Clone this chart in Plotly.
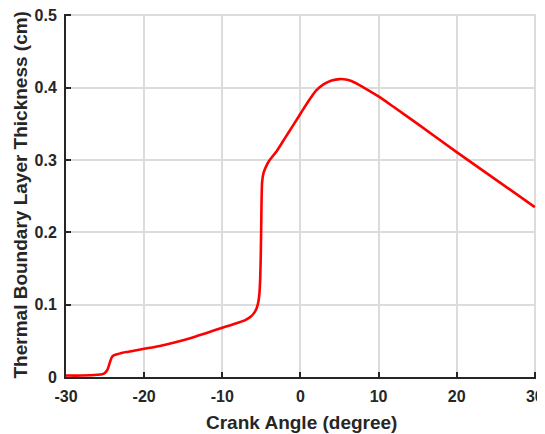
import plotly.graph_objects as go

crank_angle = [-30, -28, -26, -25.3, -25, -24.7, -24.5, -24.3, -24.1, -23.9, -23.6, -23, -22, -20, -18, -16, -14, -12, -10, -8,
               -7, -6.3, -5.9, -5.6, -5.4, -5.25, -5.15, -5.08, -5.02, -4.97, -4.9, -4.7, -4.4, -4, -3, -2, -1, 0,
               1, 2, 3, 4, 5, 6, 7, 8, 10, 12, 15, 20, 25, 30]
thickness = [0.002, 0.002, 0.003, 0.004, 0.006, 0.010, 0.016, 0.023, 0.028, 0.030, 0.031, 0.033, 0.035, 0.039, 0.043, 0.048, 0.054, 0.061, 0.068, 0.075,
             0.079, 0.084, 0.089, 0.095, 0.103, 0.115, 0.135, 0.165, 0.205, 0.245, 0.270, 0.283, 0.291, 0.299, 0.313, 0.330, 0.347, 0.364,
             0.381, 0.396, 0.405, 0.410, 0.412, 0.411, 0.407, 0.401, 0.388, 0.373, 0.350, 0.311, 0.273, 0.235]

x_ticks = [-30, -20, -10, 0, 10, 20, 30]
y_ticks = [0, 0.1, 0.2, 0.3, 0.4, 0.5]
y_tick_labels = ["0", "0.1", "0.2", "0.3", "0.4", "0.5"]
x_title = "Crank Angle (degree)"
y_title = "Thermal Boundary Layer Thickness (cm)"

fig = go.Figure()
fig.add_trace(go.Scatter(x=crank_angle, y=thickness, mode="lines",
                         line=dict(color="#ff0000", width=2.6, shape="spline", smoothing=0.6),
                         showlegend=False))

ink = "#262626"
# page body has an 8px margin, so the figure is sized/offset to compensate
fig.update_layout(
    width=537, height=426,
    margin=dict(l=58, r=9, t=6, b=57, autoexpand=False),
    paper_bgcolor="white", plot_bgcolor="white",
    font=dict(family="Liberation Sans, Arial, sans-serif", size=16, color=ink),
)
common = dict(showgrid=True, gridcolor="#dcdcdc", gridwidth=1.5,
              showline=True, linecolor=ink, linewidth=2,
              ticks="inside", ticklen=5, tickwidth=2, tickcolor=ink,
              zeroline=False, tickfont=dict(size=16), automargin=False,
              ticklabeloverflow="allow")
fig.update_xaxes(range=[-30, 30.15], tickvals=x_ticks, ticktext=[f"<b>{v}</b>" for v in x_ticks],
                 ticklabelstandoff=4, **common)
fig.update_yaxes(range=[0, 0.502], tickvals=y_ticks, ticktext=[f"<b>{t}</b>" for t in y_tick_labels],
                 ticklabelstandoff=4, **common)

fig.add_annotation(text=f"<b>{x_title}</b>", xref="paper", yref="paper", x=0.5, y=0,
                   xanchor="center", yanchor="middle", yshift=-45, showarrow=False,
                   font=dict(size=19, color=ink))
fig.add_annotation(text=f"<b>{y_title}</b>", xref="paper", yref="paper", x=0, y=0.5,
                   xanchor="center", yanchor="middle", xshift=-46, textangle=-90, showarrow=False,
                   font=dict(size=19, color=ink))

fig.write_html("out.html")
